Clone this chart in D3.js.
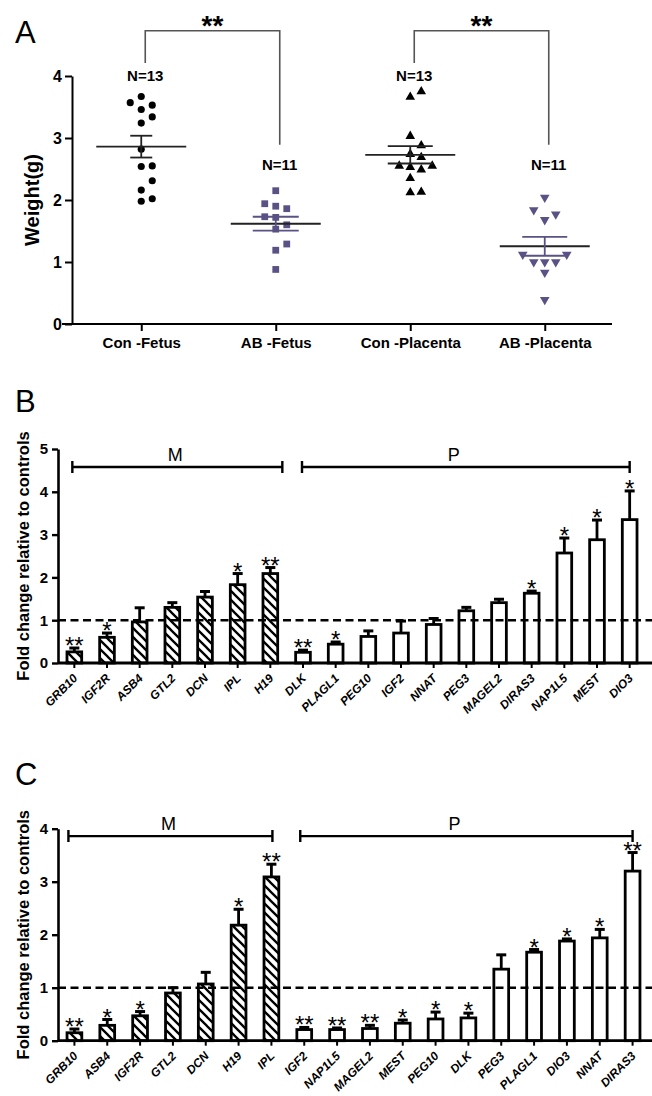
<!DOCTYPE html>
<html>
<head>
<meta charset="utf-8">
<script src="https://cdn.jsdelivr.net/npm/d3@7"></script>
<style>
  body { margin: 0; background: #fff; }
  svg { display: block; }
</style>
</head>
<body>
<script>
// ---- data: panel A (weights, g) ----
const groupsA = ["Con -Fetus", "AB -Fetus", "Con -Placenta", "AB -Placenta"];
const conFetus = [3.67, 3.53, 3.57, 3.46, 3.34, 3.24, 2.82, 2.54, 2.55, 2.31, 2.16, 1.98, 2.02];
const abFetus = [2.15, 1.86, 1.94, 1.90, 1.72, 1.73, 1.60, 1.53, 1.29, 1.19, 0.88];
const conPlacenta = [3.75, 3.66, 3.03, 2.88, 2.74, 2.69, 2.55, 2.49, 2.53, 2.55, 2.35, 2.12, 2.13];
const abPlacenta = [2.04, 1.84, 1.77, 1.68, 1.12, 1.12, 1.00, 1.00, 1.00, 0.83, 0.39];
const nLabels = ["N=13", "N=11", "N=13", "N=11"];
const ticksA = [0, 1, 2, 3, 4];

// ---- data: panel B (fold change) ----
const genesB = ["GRB10", "IGF2R", "ASB4", "GTL2", "DCN", "IPL", "H19", "DLK", "PLAGL1", "PEG10",
  "IGF2", "NNAT", "PEG3", "MAGEL2", "DIRAS3", "NAP1L5", "MEST", "DIO3"];
const foldB = [0.26, 0.60, 0.96, 1.30, 1.54, 1.83, 2.09, 0.25, 0.44, 0.62, 0.70, 0.90, 1.22, 1.41, 1.63, 2.57, 2.88, 3.35];
const errB = [0.09, 0.10, 0.33, 0.11, 0.13, 0.26, 0.14, 0.05, 0.05, 0.13, 0.28, 0.14, 0.08, 0.08, 0.05, 0.35, 0.46, 0.67];
const starsB = ["**", "*", "", "", "", "*", "**", "**", "*", "", "", "", "", "", "*", "*", "*", "*"];

// ---- data: panel C (fold change) ----
const genesC = ["GRB10", "ASB4", "IGF2R", "GTL2", "DCN", "H19", "IPL", "IGF2", "NAP1L5", "MAGEL2",
  "MEST", "PEG10", "DLK", "PEG3", "PLAGL1", "DIO3", "NNAT", "DIRAS3"];
const foldC = [0.15, 0.29, 0.47, 0.90, 1.07, 2.18, 3.09, 0.21, 0.21, 0.23, 0.33, 0.41, 0.43, 1.35, 1.67, 1.88, 1.94, 3.20];
const errC = [0.07, 0.11, 0.08, 0.10, 0.22, 0.30, 0.24, 0.04, 0.03, 0.06, 0.06, 0.13, 0.09, 0.27, 0.05, 0.04, 0.16, 0.35];
const starsC = ["**", "*", "*", "", "", "*", "**", "**", "**", "**", "*", "*", "*", "", "*", "*", "*", "**"];

const maternalCount = 7; // first 7 genes in B and C are maternally expressed (hatched)

const FONT = "'Liberation Sans', Arial, Helvetica, sans-serif";
const PURPLE = "#5a5185";

const svg = d3.select("body").append("svg")
  .attr("width", 652).attr("height", 1096)
  .style("font-family", FONT);

svg.append("rect").attr("width", 652).attr("height", 1096).attr("fill", "#fff");

// hatch pattern
svg.append("defs").append("pattern")
  .attr("id", "hatch")
  .attr("patternUnits", "userSpaceOnUse")
  .attr("width", 9).attr("height", 9)
  .append("path")
  .attr("d", "M-2,-2 L11,11 M-2,7 L2,11 M7,-2 L11,2")
  .attr("stroke", "#000").attr("stroke-width", 2.3);

function panelLetter(txt, y) {
  svg.append("text").attr("x", 15).attr("y", y)
    .attr("font-size", 31).attr("fill", "#000").text(txt);
}

// ================= Panel A =================
panelLetter("A", 43);

const yA = d3.scaleLinear().domain([0, 4]).range([324, 76]);
const xA = d3.scalePoint().domain(groupsA).range([74, 612]).padding(0.5);

const yAxisA = svg.append("g").attr("transform", "translate(72,0)")
  .call(d3.axisLeft(yA).tickValues(ticksA).tickFormat(d3.format("d"))
    .tickSize(7).tickSizeOuter(0).tickPadding(3));
yAxisA.select(".domain").attr("stroke-width", 2);
yAxisA.selectAll(".tick line").attr("stroke-width", 2);
yAxisA.selectAll("text").attr("font-size", 16).attr("font-weight", "bold")
  .attr("font-family", FONT).attr("fill", "#000");

const xAxisA = svg.append("g").attr("transform", "translate(0,324)")
  .call(d3.axisBottom(xA).tickSize(7).tickPadding(6));
xAxisA.select(".domain").remove();
xAxisA.selectAll(".tick line").attr("stroke-width", 2);
xAxisA.selectAll("text").attr("font-size", 15).attr("font-weight", "bold")
  .attr("font-family", FONT).attr("fill", "#000");
svg.append("line").attr("x1", 62).attr("x2", 612).attr("y1", yA(0)).attr("y2", yA(0))
  .attr("stroke", "#000").attr("stroke-width", 2);

svg.append("text")
  .attr("transform", `translate(32,${(yA(0) + yA(4)) / 2}) rotate(-90)`)
  .attr("text-anchor", "middle").attr("dy", "0.35em")
  .attr("font-size", 20).attr("font-weight", "bold").text("Weight(g)");

// simple dot-plot spreading, like GraphPad's scatter dot plot
function spread(vals, minGap) {
  const order = vals.map((v, i) => i).sort((a, b) => vals[a] - vals[b]);
  const placed = [];
  const off = new Array(vals.length);
  order.forEach(i => {
    const py = yA(vals[i]);
    for (const k of [0, 1, -1, 2, -2, 3, -3]) {
      const clash = placed.some(p => p.k === k && Math.abs(p.y - py) < minGap);
      if (!clash) { off[i] = k; placed.push({ k, y: py }); break; }
    }
  });
  return off;
}

const seriesA = [conFetus, abFetus, conPlacenta, abPlacenta];
const shapesA = [d3.symbolCircle, d3.symbolSquare, d3.symbolTriangle, d3.symbolTriangle];
const sizesA = [40, 46, 40, 40];
const flipA = [false, false, false, true];
const colorsA = ["#000", PURPLE, "#000", PURPLE];
const semHalfA = [11, 23, 22.5, 22.5];
const colStep = 11;

seriesA.forEach((vals, gi) => {
  const cx = xA(groupsA[gi]);
  const off = spread(vals, 10);
  const g = svg.append("g");
  g.selectAll("path").data(vals).join("path")
    .attr("d", d3.symbol(shapesA[gi], sizesA[gi]))
    .attr("transform", (d, i) => `translate(${cx + off[i] * colStep},${yA(d)})` + (flipA[gi] ? " rotate(180)" : ""))
    .attr("fill", colorsA[gi]);

  const m = d3.mean(vals);
  const sem = d3.deviation(vals) / Math.sqrt(vals.length);
  // mean line
  g.append("line").attr("x1", cx - 45).attr("x2", cx + 45)
    .attr("y1", yA(m)).attr("y2", yA(m))
    .attr("stroke", "#222").attr("stroke-width", 1.8);
  // SEM
  const sc = colorsA[gi] === "#000" ? "#222" : PURPLE;
  g.append("line").attr("x1", cx).attr("x2", cx)
    .attr("y1", yA(m - sem)).attr("y2", yA(m + sem))
    .attr("stroke", sc).attr("stroke-width", 1.8);
  [m - sem, m + sem].forEach(v => {
    g.append("line").attr("x1", cx - semHalfA[gi]).attr("x2", cx + semHalfA[gi])
      .attr("y1", yA(v)).attr("y2", yA(v))
      .attr("stroke", sc).attr("stroke-width", 1.8);
  });
});

// significance brackets in panel A
const pairsA = [[0, 1, "**"], [2, 3, "**"]];
const brTop = 4.73, brLeftEnd = 4.21, brRightEnd = 2.89;
pairsA.forEach(([a, b, s]) => {
  const x1 = xA(groupsA[a]) + 4, x2 = xA(groupsA[b]) + 4;
  svg.append("path")
    .attr("d", `M${x1},${yA(brLeftEnd)}V${yA(brTop)}H${x2}V${yA(brRightEnd)}`)
    .attr("fill", "none").attr("stroke", "#555").attr("stroke-width", 1.6);
  svg.append("text").attr("x", (x1 + x2) / 2).attr("y", yA(brTop) + 4)
    .attr("text-anchor", "middle").attr("font-size", 28).attr("font-weight", "bold")
    .text(s);
  // N labels under each bracket leg
  svg.append("text").attr("x", x1).attr("y", yA(brLeftEnd) + 18)
    .attr("text-anchor", "middle").attr("font-size", 15).attr("font-weight", "bold")
    .text(nLabels[a]);
  svg.append("text").attr("x", x2).attr("y", yA(brRightEnd) + 25)
    .attr("text-anchor", "middle").attr("font-size", 15).attr("font-weight", "bold")
    .text(nLabels[b]);
});

// ================= Panels B and C =================
function barPanel(o) {
  const x = d3.scaleBand().domain(o.genes).range(o.xRange)
    .paddingInner(0.55).paddingOuter(0.275);
  const y = d3.scaleLinear().domain([0, o.yMax]).range(o.yRange);
  const cx = d => x(d) + x.bandwidth() / 2;
  const g = svg.append("g");

  // bars
  g.selectAll("rect.bar").data(o.genes).join("rect")
    .attr("class", "bar")
    .attr("x", d => x(d))
    .attr("y", (d, i) => y(o.fold[i]))
    .attr("width", x.bandwidth())
    .attr("height", (d, i) => y(0) - y(o.fold[i]))
    .attr("fill", (d, i) => i < maternalCount ? "url(#hatch)" : "#fff")
    .attr("stroke", "#000").attr("stroke-width", 2.8);

  // error bars (upper only)
  g.selectAll("line.err").data(o.genes).join("line")
    .attr("class", "err")
    .attr("x1", d => cx(d)).attr("x2", d => cx(d))
    .attr("y1", (d, i) => y(o.fold[i])).attr("y2", (d, i) => y(o.fold[i] + o.err[i]))
    .attr("stroke", "#000").attr("stroke-width", 2.8);
  g.selectAll("line.cap").data(o.genes).join("line")
    .attr("class", "cap")
    .attr("x1", d => cx(d) - 5).attr("x2", d => cx(d) + 5)
    .attr("y1", (d, i) => y(o.fold[i] + o.err[i])).attr("y2", (d, i) => y(o.fold[i] + o.err[i]))
    .attr("stroke", "#000").attr("stroke-width", 3);

  // significance stars
  g.selectAll("text.star").data(o.genes).join("text")
    .attr("class", "star")
    .attr("x", d => cx(d))
    .attr("y", (d, i) => y(o.fold[i] + o.err[i]) + 6)
    .attr("text-anchor", "middle").attr("font-size", 24)
    .text((d, i) => o.stars[i]);

  // reference line at 1
  g.append("line").attr("x1", o.xRange[0]).attr("x2", 652)
    .attr("y1", y(1)).attr("y2", y(1))
    .attr("stroke", "#000").attr("stroke-width", 2.4)
    .attr("stroke-dasharray", "8,4.5");

  // y axis
  const ya = g.append("g").attr("transform", `translate(${o.xRange[0]},0)`)
    .call(d3.axisLeft(y).ticks(o.yMax).tickSize(6).tickSizeOuter(0).tickPadding(4));
  ya.select(".domain").attr("stroke-width", 2.6);
  ya.selectAll(".tick line").attr("stroke-width", 2.4);
  ya.selectAll("text").attr("font-size", 15).attr("font-weight", "bold")
    .attr("font-family", FONT).attr("fill", "#000");

  // x axis: ticks from the axis generator, slanted labels drawn separately
  const xa = g.append("g").attr("transform", `translate(0,${y(0)})`)
    .call(d3.axisBottom(x).tickSize(5).tickSizeOuter(0));
  xa.select(".domain").remove();
  xa.selectAll(".tick text").remove();
  xa.selectAll(".tick line").attr("stroke-width", 2);
  g.selectAll("text.xlab").data(o.genes).join("text")
    .attr("class", "xlab")
    .attr("transform", d => `translate(${cx(d) + 1},${y(0) + 13}) rotate(-45)`)
    .attr("text-anchor", "end").attr("dy", "0.35em")
    .attr("font-size", 12).attr("font-weight", "bold").attr("font-style", "italic")
    .attr("fill", "#000")
    .text(d => d);
  g.append("line").attr("x1", o.xRange[0]).attr("x2", 652)
    .attr("y1", y(0)).attr("y2", y(0))
    .attr("stroke", "#000").attr("stroke-width", 2.8);

  // y title
  g.append("text")
    .attr("transform", `translate(23,${(y(0) + y(o.yMax)) / 2}) rotate(-90)`)
    .attr("text-anchor", "middle").attr("dy", "0.35em")
    .attr("font-size", 16.5).attr("font-weight", "bold")
    .text("Fold change relative to controls");

  // M / P brackets
  const groups = [
    { lab: "M", a: 0, b: maternalCount - 1, d1: o.mNudge[0], d2: o.mNudge[1], dl: -2 },
    { lab: "P", a: maternalCount, b: o.genes.length - 1, d1: o.pNudge[0], d2: o.pNudge[1], dl: -12 }
  ];
  const by = y(o.bracketAt);
  groups.forEach(gr => {
    const x1 = cx(o.genes[gr.a]) + gr.d1, x2 = cx(o.genes[gr.b]) + gr.d2;
    g.append("path")
      .attr("d", `M${x1},${by}H${x2}M${x1},${by - 6}V${by + 6}M${x2},${by - 6}V${by + 6}`)
      .attr("stroke", "#000").attr("stroke-width", 2.4).attr("fill", "none");
    g.append("text").attr("x", (x1 + x2) / 2 + gr.dl).attr("y", by - 6)
      .attr("text-anchor", "middle").attr("font-size", 18).text(gr.lab);
  });
}

panelLetter("B", 412);
barPanel({
  genes: genesB, fold: foldB, err: errB, stars: starsB,
  yMax: 5, yRange: [663, 449], xRange: [58, 646],
  bracketAt: 4.58, mNudge: [-2, 12], pNudge: [-1, 0]
});

panelLetter("C", 785);
barPanel({
  genes: genesC, fold: foldC, err: errC, stars: starsC,
  yMax: 4, yRange: [1040.7, 828.7], xRange: [58, 649],
  bracketAt: 3.86, mNudge: [-6, 1], pNudge: [-4, 0]
});
</script>
</body>
</html>
